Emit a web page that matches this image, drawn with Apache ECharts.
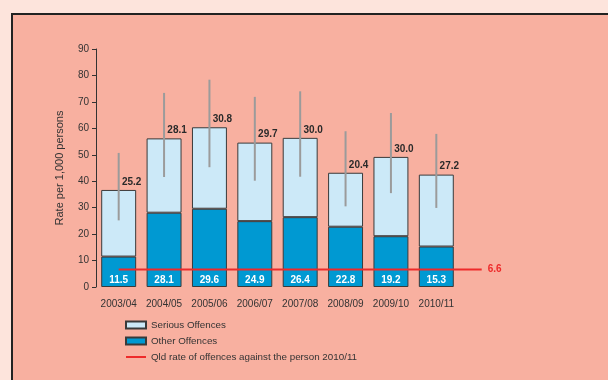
<!DOCTYPE html>
<html><head><meta charset="utf-8">
<script src="https://cdn.jsdelivr.net/npm/echarts@6/dist/echarts.min.js"></script>
<style>html,body{margin:0;padding:0;background:#fde4dc;}#c{width:608px;height:380px;}</style>
</head><body><div id="c"></div>
<script>
const categories = ['2003/04','2004/05','2005/06','2006/07','2007/08','2008/09','2009/10','2010/11'];
const otherOffences = [11.5, 28.1, 29.6, 24.9, 26.4, 22.8, 19.2, 15.3];
const seriousOffences = [25.2, 28.1, 30.8, 29.7, 30.0, 20.4, 30.0, 27.2];
const errLow = [25.2, 41.6, 45.3, 40.2, 41.7, 30.5, 35.5, 29.9];
const errHigh = [50.7, 73.4, 78.4, 71.9, 74.0, 58.9, 65.8, 57.9];
const qldRate = 6.6;
const yTicks = [0, 10, 20, 30, 40, 50, 60, 70, 80, 90];

const font = '"Liberation Sans", Arial, sans-serif';
const chart = echarts.init(document.getElementById('c'));
const gLeft = 96, gTop = 49, gBottom = 93, gWidth = 363;
const qldName = 'Qld rate of offences against the person 2010/11';
chart.setOption({
  backgroundColor: 'transparent',
  animation: false,
  textStyle: { fontFamily: font },
  graphic: [{
    type: 'rect', z: -10, silent: true,
    shape: { x: 12, y: 14, width: 620, height: 400 },
    style: { fill: '#f8b0a0', stroke: '#222', lineWidth: 2 }
  }],
  grid: [
    { left: gLeft, top: gTop, bottom: gBottom, width: gWidth },
    { left: gLeft, top: gTop, bottom: gBottom, width: gWidth * 9 / 8 }
  ],
  legend: {
    orient: 'vertical', left: 120, top: 315, itemWidth: 20, itemHeight: 7, itemGap: 6,
    textStyle: { fontFamily: font, fontSize: 9.8, color: '#333' },
    data: [
      { name: 'Serious Offences', icon: 'rect' },
      { name: 'Other Offences', icon: 'rect' },
      { name: qldName, itemStyle: { opacity: 0 } }
    ]
  },
  xAxis: [
    { type: 'category', data: categories, gridIndex: 0,
      axisLine: { show: false }, axisTick: { show: false },
      axisLabel: { color: '#333', fontSize: 10, margin: 12, interval: 0, fontFamily: font } },
    { type: 'value', gridIndex: 1, min: 0, max: 9, show: false }
  ],
  yAxis: [
    { type: 'value', gridIndex: 0, min: 0, max: 90, interval: 10,
      name: 'Rate per 1,000 persons', nameLocation: 'middle', nameGap: 31,
      nameTextStyle: { color: '#333', fontSize: 11, fontFamily: font },
      axisLine: { show: true, lineStyle: { color: '#333', width: 1 } },
      axisTick: { show: true, length: 4, lineStyle: { color: '#333' } },
      axisLabel: { color: '#333', fontSize: 10, margin: 7, fontFamily: font,
        formatter: v => yTicks.includes(v) ? String(v) : '' },
      splitLine: { show: false } },
    { type: 'value', gridIndex: 1, min: 0, max: 90, show: false }
  ],
  series: [
    { name: 'Other Offences', type: 'bar', stack: 't', barWidth: '77%',
      data: otherOffences,
      itemStyle: { color: '#0099d2', borderColor: '#3a3a3a', borderWidth: 1 },
      label: { show: true, position: 'insideBottom', distance: 2, color: '#fff',
        fontWeight: 'bold', fontSize: 10, fontFamily: font, formatter: p => p.value.toFixed(1) } },
    { name: 'Serious Offences', type: 'bar', stack: 't', barWidth: '77%',
      data: seriousOffences,
      itemStyle: { color: '#cce9f8', borderColor: '#3a3a3a', borderWidth: 1 },
      label: { show: true, position: 'top', distance: 3, offset: [13, 0], color: '#2a2a2a',
        fontWeight: 'bold', fontSize: 10, fontFamily: font, formatter: p => p.value.toFixed(1) } },
    { name: 'err', type: 'custom', z: 5, silent: true,
      data: categories.map((c, i) => [i, errLow[i], errHigh[i]]),
      renderItem: (params, api) => {
        const lo = api.coord([api.value(0), api.value(1)]);
        const hi = api.coord([api.value(0), api.value(2)]);
        return { type: 'line', shape: { x1: lo[0], y1: lo[1], x2: hi[0], y2: hi[1] },
          style: { stroke: '#9b9b9b', lineWidth: 2 } };
      } },
    { name: qldName, type: 'line',
      xAxisIndex: 1, yAxisIndex: 1, z: 6, symbol: 'none',
      data: [[0.5, qldRate], [8.5, qldRate]],
      lineStyle: { color: '#ee2a2a', width: 2 }, itemStyle: { color: '#ee2a2a' },
      endLabel: { show: true, formatter: () => qldRate.toFixed(1), color: '#ee2a2a',
        fontWeight: 'bold', fontSize: 10, fontFamily: font, distance: 6 } }
  ]
});
</script></body></html>
